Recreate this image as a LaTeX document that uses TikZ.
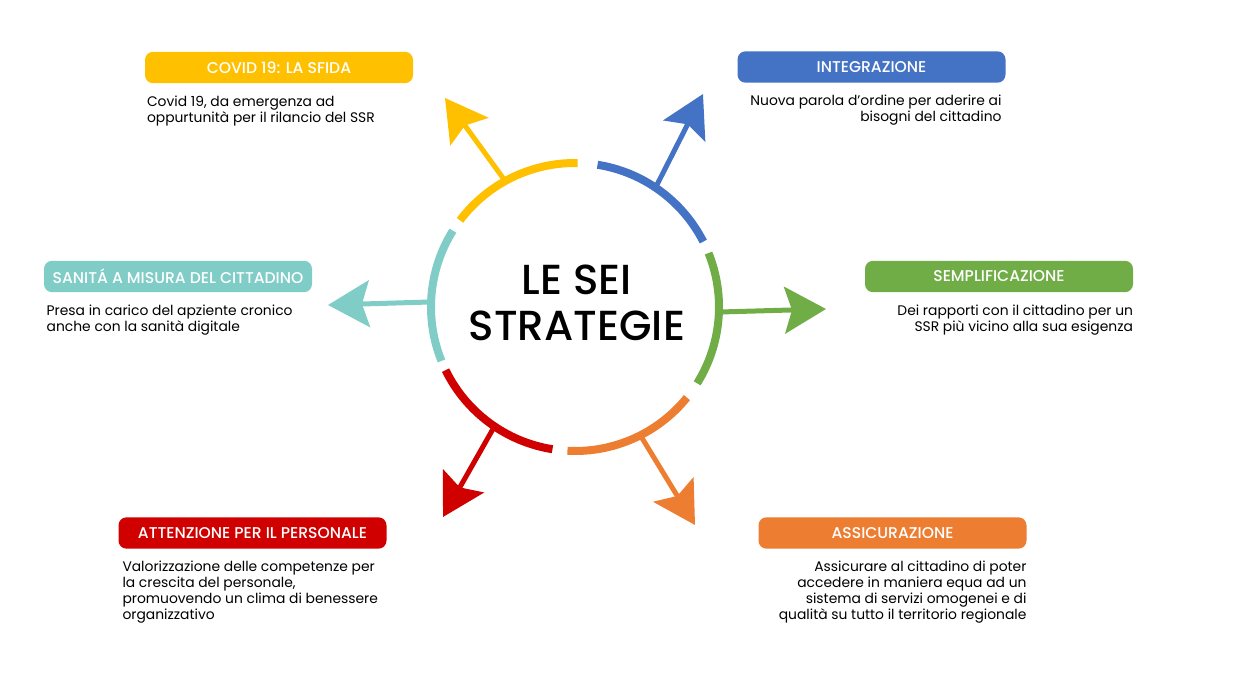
\documentclass[tikz,border=0pt]{standalone}
\usepackage{fontspec}
\setmainfont{Poppins}
\newfontfamily\medfont{Poppins Medium}
\usetikzlibrary{positioning,arrows.meta}
\definecolor{covid}{HTML}{FFC000}
\definecolor{integr}{HTML}{4472C4}
\definecolor{sempl}{HTML}{70AD47}
\definecolor{sanita}{HTML}{80CCC7}
\definecolor{attenz}{HTML}{D00000}
\definecolor{assic}{HTML}{ED7D31}
\begin{document}
\begin{tikzpicture}[x=0.75pt, y=0.75pt,
    head/.style = {rounded corners=6pt, text=white, minimum width=201pt, minimum height=23.5pt, inner sep=0pt, font=\medfont\fontsize{11.7}{13}\selectfont},
    desc/.style = {inner sep=0pt, font=\fontsize{10.4}{12}\selectfont},
    ring/.style = {line width=6pt},
    ray/.style = {line width=3.75pt, -{Stealth[length=31pt, width=35pt, inset=5.5pt]}}]
        \useasboundingbox (0,0) rectangle (1247,697);
        \node[circle, minimum size=216pt, inner sep=0pt] (c) at (575,390) {};
        \node[font=\medfont\fontsize{31.5}{34}\selectfont, align=center] (title) at (577,394) {LE SEI\\STRATEGIE};
        \node[head, fill=covid] (cov) at (279,629.5) {COVID 19: LA SFIDA};
        \node[head, fill=integr] (int) at (871.5,630) {INTEGRAZIONE};
        \node[head, fill=sanita] (san) at (178,420.5) {SANITÁ A MISURA DEL CITTADINO};
        \node[head, fill=sempl] (sem) at (999,420.5) {SEMPLIFICAZIONE};
        \node[head, fill=attenz] (att) at (252.5,164) {ATTENZIONE PER IL PERSONALE};
        \node[head, fill=assic] (ass) at (892.5,164) {ASSICURAZIONE};
        \node[desc, align=left, below=9pt of cov.south west, anchor=north west, xshift=1.5pt] (covt) {Covid 19, da emergenza ad\\oppurtunità per il rilancio del SSR};
        \node[desc, align=right, below=9pt of int.south east, anchor=north east, xshift=-3pt] (intt) {Nuova parola d’ordine per aderire ai\\bisogni del cittadino};
        \node[desc, align=left, below=9pt of san.south west, anchor=north west, xshift=2pt] (sant) {Presa in carico del apziente cronico\\anche con la sanità digitale};
        \node[desc, align=right, below=9pt of sem.south east, anchor=north east] (semt) {Dei rapporti con il cittadino per un\\SSR più vicino alla sua esigenza};
        \node[desc, align=left, below=9pt of att.south west, anchor=north west, xshift=3pt] (attt) {Valorizzazione delle competenze per\\la crescita del personale,\\promuovendo un clima di benessere\\organizzativo};
        \node[desc, align=right, below=9pt of ass.south east, anchor=north east] (asst) {Assicurare al cittadino di poter\\accedere in maniera equa ad un\\sistema di servizi omogenei e di\\qualità su tutto il territorio regionale};
        \coordinate (covend) at (445,599);
        \coordinate (intend) at (703,603);
        \coordinate (semend) at (826,388);
        \coordinate (sanend) at (328,392);
        \coordinate (attend) at (443,180);
        \coordinate (assend) at (695,172);
        \draw[ring, covid] (c.center) ++(89:144) arc[start angle=89, end angle=143, radius=144];
        \draw[ring, sanita] (c.center) ++(148:144) arc[start angle=148, end angle=202, radius=144];
        \draw[ring, attenz] (c.center) ++(206:144) arc[start angle=206, end angle=261, radius=144];
        \draw[ring, assic] (c.center) ++(267:144) arc[start angle=267, end angle=321, radius=144];
        \draw[ring, sempl] (c.center) ++(328:144) arc[start angle=328, end angle=382, radius=144];
        \draw[ring, integr] (c.center) ++(27:144) arc[start angle=27, end angle=81, radius=144];
        \draw[ray, covid] (c.119) -- (covend);
        \draw[ray, integr] (c.56) -- (intend);
        \draw[ray, sempl] (c.-2) -- (semend);
        \draw[ray, sanita] (c.178) -- (sanend);
        \draw[ray, attenz] (c.236) -- (attend);
        \draw[ray, assic] (c.297) -- (assend);
\end{tikzpicture}
\end{document}
